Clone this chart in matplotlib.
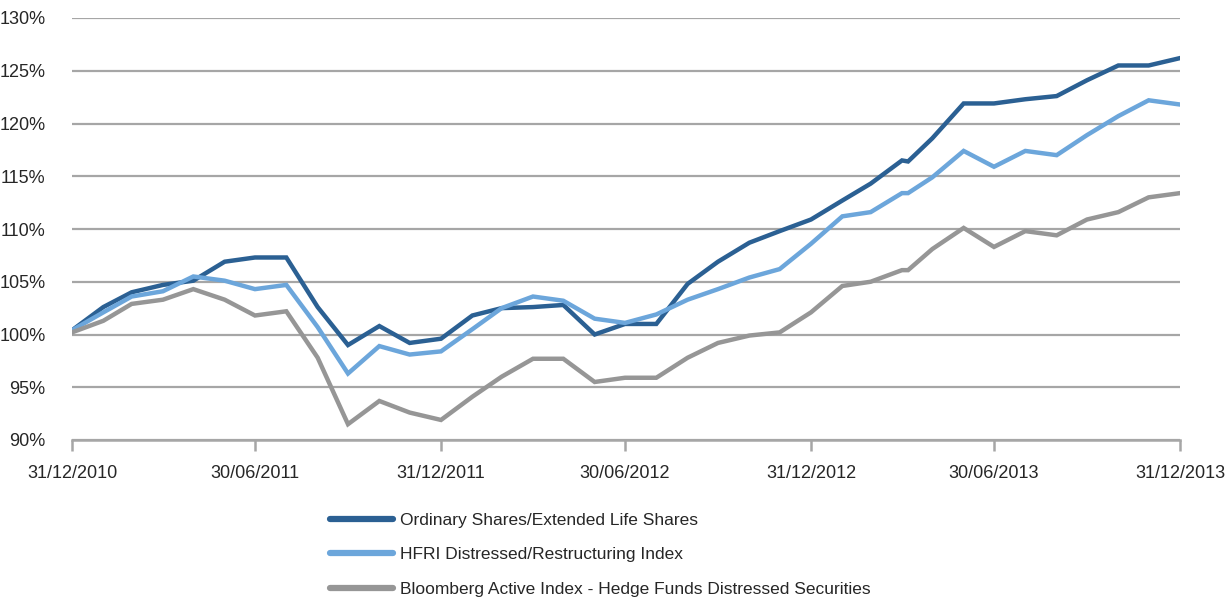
import pandas as pd
import numpy as np
import matplotlib
matplotlib.use('Agg')
import matplotlib.pyplot as plt
import matplotlib.dates as mdates

plt.rcParams['font.family'] = ['Liberation Sans', 'DejaVu Sans']

# month-end dates, plus one extra observation in early April 2013
dates = list(pd.date_range('2010-12-31', periods=37, freq='ME'))
dates.insert(28, pd.Timestamp('2013-04-06'))

ordinary = [100.4, 102.6, 104.0, 104.7, 105.1, 106.9, 107.3, 107.3, 102.6, 99.0,
            100.8, 99.2, 99.6, 101.8, 102.5, 102.6, 102.8, 100.0, 101.0, 101.0,
            104.8, 106.9, 108.7, 109.8, 110.9, 112.7, 114.3, 116.5, 116.4, 118.6,
            121.9, 121.9, 122.3, 122.6, 124.1, 125.5, 125.5, 126.2]
hfri = [100.4, 102.1, 103.6, 104.1, 105.5, 105.1, 104.3, 104.7, 100.7, 96.3,
        98.9, 98.1, 98.4, 100.5, 102.5, 103.6, 103.2, 101.5, 101.1, 101.9,
        103.3, 104.3, 105.4, 106.2, 108.6, 111.2, 111.6, 113.4, 113.4, 114.9,
        117.4, 115.9, 117.4, 117.0, 118.9, 120.7, 122.2, 121.8]
bloomberg = [100.2, 101.3, 102.9, 103.3, 104.3, 103.3, 101.8, 102.2, 97.8, 91.5,
             93.7, 92.6, 91.9, 94.1, 96.0, 97.7, 97.7, 95.5, 95.9, 95.9,
             97.8, 99.2, 99.9, 100.2, 102.1, 104.6, 105.0, 106.1, 106.1, 108.1,
             110.1, 108.3, 109.8, 109.4, 110.9, 111.6, 113.0, 113.4]

labels = ['Ordinary Shares/Extended Life Shares',
          'HFRI Distressed/Restructuring Index',
          'Bloomberg Active Index - Hedge Funds Distressed Securities']
colors = ['#2b6093', '#6ca6db', '#969696']
tick_dates = ['2010-12-31', '2011-06-30', '2011-12-31', '2012-06-30',
              '2012-12-31', '2013-06-30', '2013-12-31']

fig = plt.figure(figsize=(12.3, 6.0), dpi=100)
ax = fig.add_axes([72 / 1230, 1 - 440 / 600, (1180 - 72) / 1230, (440 - 18) / 600])

for vals, lab, col in zip([ordinary, hfri, bloomberg], labels, colors):
    ax.plot(dates, vals, color=col, lw=3.2, label=lab, solid_joinstyle='miter')

ax.set_ylim(90, 130)
ax.set_yticks(np.arange(90, 131, 5))
ax.set_yticklabels(['%d%%' % v for v in np.arange(90, 131, 5)])
ax.set_xlim(pd.Timestamp(tick_dates[0]), pd.Timestamp(tick_dates[-1]))
ax.set_xticks([pd.Timestamp(d) for d in tick_dates])
ax.xaxis.set_major_formatter(mdates.DateFormatter('%d/%m/%Y'))

ax.grid(axis='y', color='#a6a6a6', lw=1.6)
ax.set_axisbelow(True)
for s in ['top', 'right', 'left']:
    ax.spines[s].set_visible(False)
ax.spines['bottom'].set_color('#a6a6a6')
ax.spines['bottom'].set_linewidth(1.8)
ax.tick_params(axis='y', length=0, pad=19, labelsize=13, labelcolor='#262626')
ax.tick_params(axis='x', length=8, width=1.8, color='#a6a6a6', pad=10,
               labelsize=13, labelcolor='#262626')

leg = fig.legend(loc='upper left', bbox_to_anchor=(330 / 1230, 1 - 513 / 600),
                 frameon=False, fontsize=12.5, handlelength=3.6, handletextpad=0.45,
                 labelspacing=1.1, borderpad=0, borderaxespad=0)
for line in leg.get_lines():
    line.set_linewidth(4.5)
    line.set_solid_capstyle('round')
for t in leg.get_texts():
    t.set_color('#262626')

fig.savefig('out.png', dpi=100)
